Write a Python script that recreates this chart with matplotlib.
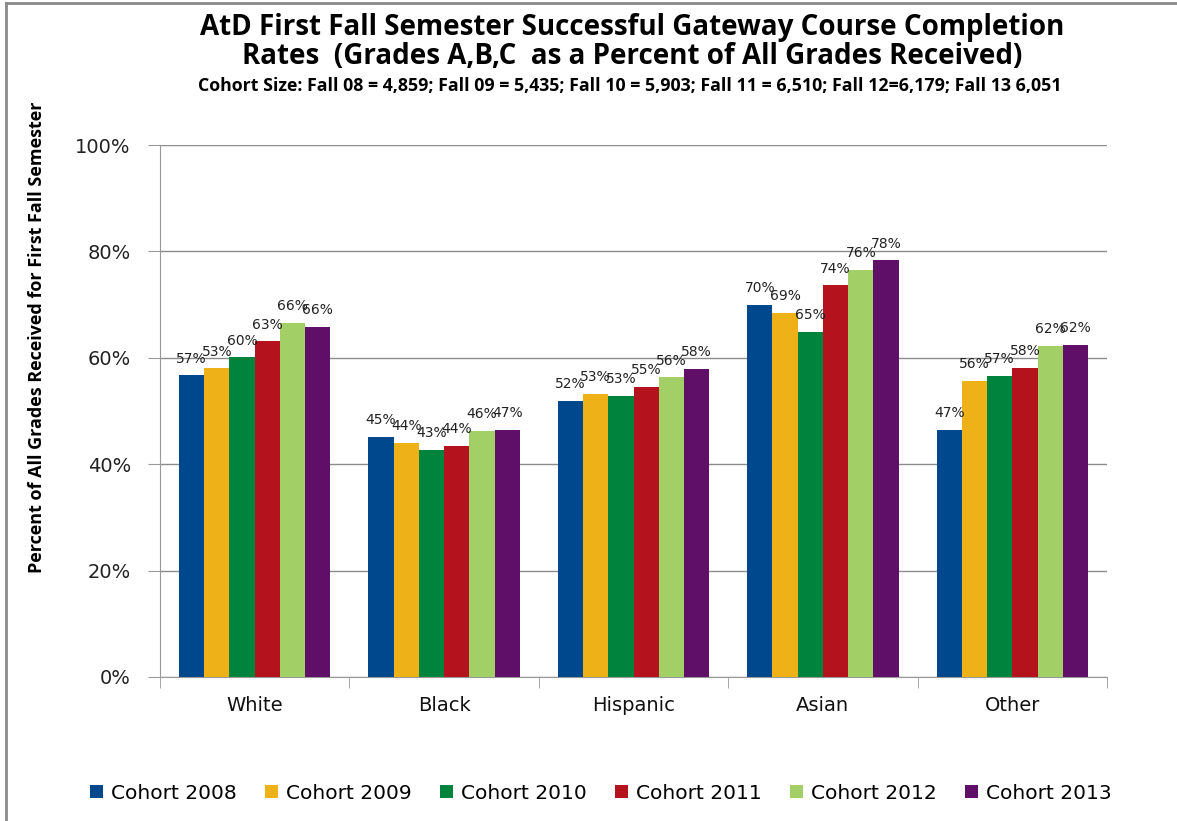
import numpy as np
import matplotlib
matplotlib.use("Agg")
import matplotlib.pyplot as plt
from matplotlib.lines import Line2D

# --- data ---------------------------------------------------------------
categories = ["White", "Black", "Hispanic", "Asian", "Other"]
cohorts = ["Cohort 2008", "Cohort 2009", "Cohort 2010", "Cohort 2011",
           "Cohort 2012", "Cohort 2013"]
c2008 = [56.7, 45.1, 51.9, 69.9, 46.4]
c2009 = [58.0, 44.0, 53.2, 68.5, 55.6]
c2010 = [60.1, 42.7, 52.8, 64.9, 56.6]
c2011 = [63.1, 43.4, 54.6, 73.6, 58.1]
c2012 = [66.5, 46.2, 56.3, 76.5, 62.2]
c2013 = [65.8, 46.5, 57.9, 78.3, 62.4]
series = [c2008, c2009, c2010, c2011, c2012, c2013]
# data labels as printed on the original chart
labels_2008 = ["57%", "45%", "52%", "70%", "47%"]
labels_2009 = ["53%", "44%", "53%", "69%", "56%"]
labels_2010 = ["60%", "43%", "53%", "65%", "57%"]
labels_2011 = ["63%", "44%", "55%", "74%", "58%"]
labels_2012 = ["66%", "46%", "56%", "76%", "62%"]
labels_2013 = ["66%", "47%", "58%", "78%", "62%"]
point_labels = [labels_2008, labels_2009, labels_2010, labels_2011,
                labels_2012, labels_2013]
colors = ["#00488E", "#EFB118", "#00843D", "#B4121C", "#A2D066", "#5F0F67"]
yticks = [0, 20, 40, 60, 80, 100]

TITLE_1 = "AtD First Fall Semester Successful Gateway Course Completion"
TITLE_2 = "Rates  (Grades A,B,C  as a Percent of All Grades Received)"
SUBTITLE = ("Cohort Size: Fall 08 = 4,859; Fall 09 = 5,435; Fall 10 = 5,903; "
            "Fall 11 = 6,510; Fall 12=6,179; Fall 13 6,051")
YLABEL = "Percent of All Grades Received for First Fall Semester"

# --- figure -------------------------------------------------------------
W, H = 1177, 821
fig = plt.figure(figsize=(W / 100, H / 100), dpi=100)
ax = fig.add_axes([160 / W, 1 - 677 / H, 947 / W, 532 / H])

x = np.arange(len(categories))
w = 0.8 / len(series)
for i, (vals, lab, col, txt) in enumerate(zip(series, cohorts, colors, point_labels)):
    pos = x - 0.4 + w * (i + 0.5)
    ax.bar(pos, vals, width=w, color=col, label=lab, zorder=3)
    for px, v, t in zip(pos, vals, txt):
        ax.annotate(t, (px, v), xytext=(0, 7), textcoords="offset points",
                    ha="center", va="bottom", fontsize=10, color="#222222",
                    zorder=4)

ax.set_xlim(-0.5, len(categories) - 0.5)
ax.set_ylim(0, 100)
ax.set_yticks(yticks)
ax.set_yticklabels([f"{t}%" for t in yticks], fontsize=14, color="#222222")
ax.set_xticks(x)
ax.set_xticklabels(categories, fontsize=14, color="#111111")
ax.set_xticks(np.arange(-0.5, len(categories)), minor=True)
ax.tick_params(axis="x", which="major", length=0, pad=14)
ax.tick_params(axis="x", which="minor", length=8, color="#999999")
ax.tick_params(axis="y", length=9, color="#999999", pad=12)
ax.yaxis.grid(True, color="#8c8c8c", lw=1, zorder=0)
for s in ["top", "right"]:
    ax.spines[s].set_visible(False)
for s in ["left", "bottom"]:
    ax.spines[s].set_color("#999999")

fig.text(37 / W, 1 - 337 / H, YLABEL, rotation=90, ha="center", va="center",
         fontsize=13, fontweight="bold", family="Open Sans")

fig.text(632 / W, 1 - 28 / H, TITLE_1, ha="center", va="center",
         fontsize=20, fontweight="bold", family="Open Sans")
fig.text(632 / W, 1 - 56 / H, TITLE_2, ha="center", va="center",
         fontsize=20, fontweight="bold", family="Open Sans")
fig.text(630 / W, 1 - 86 / H, SUBTITLE, ha="center", va="center",
         fontsize=12.8, fontweight="bold", family="Open Sans")

fig.legend(loc="center", bbox_to_anchor=(601 / W, 1 - 793 / H), ncol=6,
           frameon=False, fontsize=14.5, handlelength=0.65, handleheight=0.65,
           handletextpad=0.4, columnspacing=1.4)

# chart frame edges
fig.add_artist(Line2D([6 / W, 6 / W], [0, 1 - 3 / H], color="#8a8a8a", lw=2))
fig.add_artist(Line2D([6 / W, 1], [1 - 3 / H, 1 - 3 / H], color="#8a8a8a", lw=2))

fig.savefig("out.png", dpi=100)
